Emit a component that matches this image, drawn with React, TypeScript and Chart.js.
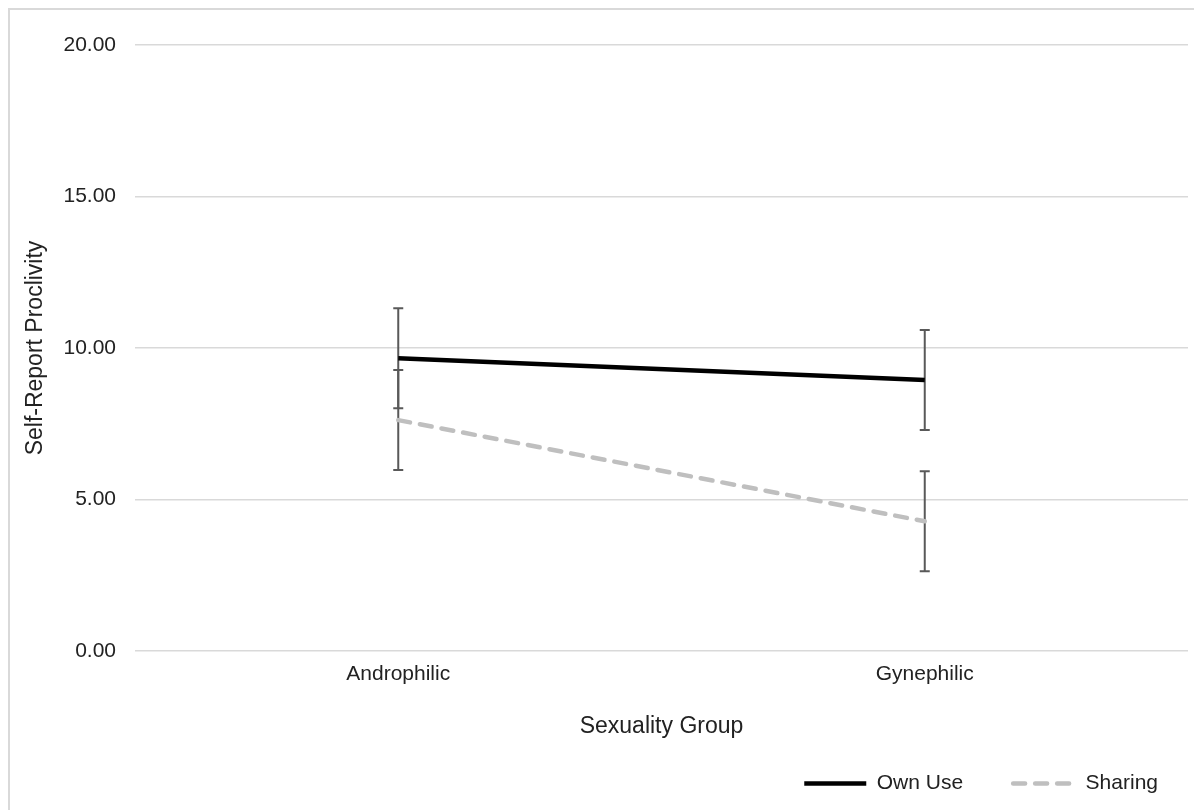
import React, { useEffect, useRef } from 'react';
import { Chart, registerables } from 'chart.js';

Chart.register(...registerables);

// ---- data ----
const categories = ['Androphilic', 'Gynephilic'];
const seriesNames = ['Own Use', 'Sharing'];
const ownUse = [9.66, 8.94];
const ownUseErr = [1.65, 1.65];
const sharing = [7.62, 4.28];
const sharingErr = [1.65, 1.65];
const yTickValues = [0, 5, 10, 15, 20];
const xTitle = 'Sexuality Group';
const yTitle = 'Self-Report Proclivity';

const errorsBySeries = [ownUseErr, sharingErr];

const FONT = '"Liberation Sans", Arial, Helvetica, sans-serif';
const TEXT = '#222222';

const errorBarPlugin = {
  id: 'errorBars',
  beforeDatasetsDraw(chart: any) {
    const { ctx, scales } = chart;
    const x = scales.x;
    const y = scales.y;
    ctx.save();
    ctx.strokeStyle = '#595959';
    ctx.lineWidth = 2;
    ctx.lineCap = 'butt';
    chart.data.datasets.forEach((ds: any, di: number) => {
      const errs = errorsBySeries[di];
      ds.data.forEach((v: number, i: number) => {
        const px = x.getPixelForValue(i);
        const top = y.getPixelForValue(v + errs[i]);
        const bot = y.getPixelForValue(v - errs[i]);
        const cap = 5;
        ctx.beginPath();
        ctx.moveTo(px, top);
        ctx.lineTo(px, bot);
        ctx.moveTo(px - cap, top);
        ctx.lineTo(px + cap, top);
        ctx.moveTo(px - cap, bot);
        ctx.lineTo(px + cap, bot);
        ctx.stroke();
      });
    });
    ctx.restore();
  },
};

export default function App() {
  const canvasRef = useRef<HTMLCanvasElement | null>(null);

  useEffect(() => {
    document.documentElement.style.overflow = 'hidden';
    document.body.style.overflow = 'hidden';
    const canvas = canvasRef.current;
    if (!canvas) return;
    const chart = new Chart(canvas, {
      type: 'line',
      data: {
        labels: categories,
        datasets: [
          {
            label: seriesNames[0],
            data: ownUse,
            borderColor: '#000000',
            backgroundColor: '#000000',
            borderWidth: 4.5,
            borderCapStyle: 'butt',
            pointRadius: 0,
            pointHoverRadius: 0,
            tension: 0,
            fill: false,
          },
          {
            label: seriesNames[1],
            data: sharing,
            borderColor: '#bfbfbf',
            backgroundColor: '#bfbfbf',
            borderWidth: 4.5,
            borderDash: [12, 10],
            borderCapStyle: 'round',
            pointRadius: 0,
            pointHoverRadius: 0,
            tension: 0,
            fill: false,
          },
        ],
      },
      options: {
        responsive: false,
        maintainAspectRatio: false,
        animation: false,
        events: [],
        layout: { padding: { top: 35, left: 0, right: 0, bottom: 0 } },
        scales: {
          x: {
            type: 'category',
            offset: true,
            grid: { display: false, drawTicks: false },
            border: { display: false },
            ticks: {
              padding: 11,
              color: TEXT,
              font: { family: FONT, size: 21 },
              maxRotation: 0,
            },
            title: {
              display: true,
              text: xTitle,
              color: TEXT,
              font: { family: FONT, size: 23 },
              padding: { top: 0, bottom: -17.5 },
            },
            afterFit: (s: any) => {
              s.height = 72;
            },
          },
          y: {
            type: 'linear',
            position: 'left',
            min: 0,
            max: 20,
            afterBuildTicks: (s: any) => {
              s.ticks = yTickValues.map((v) => ({ value: v }));
            },
            grid: { color: '#d9d9d9', lineWidth: 1.5, drawTicks: false },
            border: { display: false },
            ticks: {
              padding: 19,
              color: TEXT,
              font: { family: FONT, size: 21 },
              callback: (v: any) => Number(v).toFixed(2),
            },
            title: {
              display: true,
              text: yTitle,
              color: TEXT,
              font: { family: FONT, size: 23 },
              padding: { top: 12.2, bottom: 0 },
            },
            afterFit: (s: any) => {
              s.width = 125;
            },
          },
          yRight: {
            type: 'linear',
            position: 'right',
            display: true,
            grid: { display: false, drawTicks: false },
            border: { display: false },
            ticks: { display: false },
            afterFit: (s: any) => {
              s.width = 20;
            },
          },
        },
        plugins: {
          tooltip: { enabled: false },
          legend: {
            display: true,
            position: 'bottom',
            align: 'end',
            labels: {
              color: TEXT,
              font: { family: FONT, size: 21 },
              usePointStyle: true,
              pointStyle: 'line',
              pointStyleWidth: 62,
              boxHeight: 4,
              padding: 50,
              generateLabels: (ch: any) =>
                ch.data.datasets.map((ds: any, i: number) => ({
                  text: ds.label,
                  fillStyle: ds.borderColor,
                  strokeStyle: ds.borderColor,
                  lineWidth: 4.5,
                  lineDash: ds.borderDash || [],
                  lineCap: ds.borderDash ? 'round' : 'butt',
                  pointStyle: 'line',
                  hidden: false,
                  datasetIndex: i,
                  fontColor: TEXT,
                })),
            },
          },
        },
      },
      plugins: [errorBarPlugin],
    } as any);
    return () => {
      chart.destroy();
    };
  }, []);

  return (
    <div style={{ position: 'relative', width: 1194, height: 802, overflow: 'hidden' }}>
      <div
        style={{
          boxSizing: 'border-box',
          width: 1230,
          height: 840,
          border: '2px solid #d9d9d9',
          background: '#ffffff',
        }}
      >
        <canvas ref={canvasRef} width={1198} height={794} style={{ display: 'block' }} />
      </div>
    </div>
  );
}
